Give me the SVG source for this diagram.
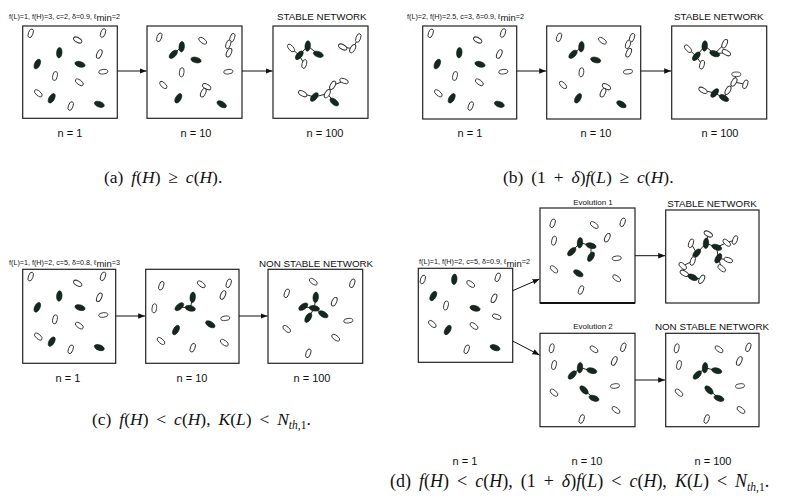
<svg xmlns="http://www.w3.org/2000/svg" xmlns:xlink="http://www.w3.org/1999/xlink" width="789" height="499" viewBox="0 0 789 499">
<style>
.bx{fill:#fff;stroke:#222;stroke-width:1.2}
.ln{stroke:#111;stroke-width:0.9;fill:none}
.ar{stroke:#111;stroke-width:1;fill:none}
.p{font-family:"Liberation Sans",Arial,sans-serif;font-size:7.2px;fill:#111}
.m{font-size:9.5px}
.t{font-family:"Liberation Sans",Arial,sans-serif;font-size:9.8px;fill:#111}
.e{font-family:"Liberation Sans",Arial,sans-serif;font-size:8px;fill:#111}
.n{font-family:"Liberation Sans",Arial,sans-serif;font-size:11px;fill:#111;text-anchor:middle}
.cap{font-family:"Liberation Serif","Times New Roman",serif;font-size:17.5px;word-spacing:3.5px;fill:#111}
.i{font-style:italic}
.s{font-size:11.5px}
</style>
<defs>
<marker id="ah" viewBox="0 0 10 10" refX="10" refY="5" markerWidth="7" markerHeight="7" markerUnits="userSpaceOnUse" orient="auto"><path d="M0,1 L10,5 L0,9 z" fill="#111"/></marker>
<ellipse id="W" rx="2.3" ry="4.6" fill="#fff" stroke="#333" stroke-width="0.9"/>
<ellipse id="B" rx="2.7" ry="5.2" fill="#13291d" stroke="#0b1810" stroke-width="0.6"/>
<g id="init">
<use href="#W" transform="translate(8 7.3) rotate(20)"/>
<use href="#W" transform="translate(80.3 7) rotate(20)"/>
<use href="#W" transform="translate(55 14) rotate(-60)"/>
<use href="#B" transform="translate(36.6 26.7) rotate(5)"/>
<use href="#W" transform="translate(76.6 28) rotate(25)"/>
<use href="#B" transform="translate(14.6 38) rotate(25)"/>
<use href="#B" transform="translate(57.3 38.3) rotate(-75)"/>
<use href="#W" transform="translate(32.3 50) rotate(10)"/>
<use href="#W" transform="translate(80.6 45.7) rotate(85)"/>
<use href="#W" transform="translate(56.6 56.3) rotate(-55)"/>
<use href="#W" transform="translate(15.6 67.3) rotate(-50)"/>
<use href="#B" transform="translate(29 72.3) rotate(30)"/>
<use href="#W" transform="translate(48 80) rotate(20)"/>
<use href="#B" transform="translate(76.6 78.3) rotate(-70)"/>
</g>
<g id="ten">
<path class="ln" d="M85.3,11.7 L81.3,18.3 M34.7,20.7 L26.3,28.3 M59.7,60.7 L56.3,66.7"/>
<use href="#W" transform="translate(12.3 11.3) rotate(20)"/>
<use href="#W" transform="translate(55.7 14.7) rotate(-55)"/>
<use href="#W" transform="translate(85.3 11.7) rotate(20)"/>
<use href="#W" transform="translate(81.3 18.3) rotate(20)"/>
<use href="#B" transform="translate(34.7 20.7) rotate(5)"/>
<use href="#B" transform="translate(26.3 28.3) rotate(45)"/>
<use href="#B" transform="translate(49 34) rotate(-75)"/>
<use href="#W" transform="translate(82 26.7) rotate(25)"/>
<use href="#W" transform="translate(34.7 46.3) rotate(5)"/>
<use href="#W" transform="translate(81.3 45.7) rotate(85)"/>
<use href="#W" transform="translate(16.3 59) rotate(-45)"/>
<use href="#W" transform="translate(59.7 60.7) rotate(-60)"/>
<use href="#W" transform="translate(56.3 66.7) rotate(25)"/>
<use href="#B" transform="translate(31.3 72.3) rotate(30)"/>
<use href="#B" transform="translate(74.7 78.3) rotate(-60)"/>
</g>
<g id="ev2">
<path class="ln" d="M40,34.7 L32.3,42 M40,34.7 L51.7,37.7 M44,57 L54,65.3"/>
<use href="#W" transform="translate(11.7 15.3) rotate(10)"/>
<use href="#W" transform="translate(54 16.3) rotate(-55)"/>
<use href="#W" transform="translate(83.3 14.3) rotate(20)"/>
<use href="#W" transform="translate(74.3 28) rotate(25)"/>
<use href="#W" transform="translate(14 32) rotate(10)"/>
<use href="#B" transform="translate(40 34.7) rotate(5)"/>
<use href="#B" transform="translate(32.3 42) rotate(45)"/>
<use href="#B" transform="translate(51.7 37.7) rotate(-75)"/>
<use href="#W" transform="translate(75 53) rotate(85)"/>
<use href="#W" transform="translate(14 59.7) rotate(-50)"/>
<use href="#B" transform="translate(44 57) rotate(-45)"/>
<use href="#B" transform="translate(54 65.3) rotate(-70)"/>
<use href="#W" transform="translate(76 77) rotate(-55)"/>
<use href="#W" transform="translate(41.7 86) rotate(20)"/>
</g>
</defs>
<rect width="789" height="499" fill="#fff"/>

<!-- panel a -->
<g id="a-params"><text class="p" x="9" y="18.5">f(L)=1, f(H)=3, c=2, δ=0.9,  ℓ<tspan class="m" dy="2.5">min</tspan><tspan dy="-2.5">=2</tspan></text></g>
<g id="a-n1">
<rect class="bx" x="22.7" y="26" width="94.6" height="92.3"/>
<use href="#init" x="22.7" y="26"/>
<text class="n" x="70" y="137">n = 1</text>
</g>
<g id="a-n10">
<rect class="bx" x="147" y="26" width="95" height="92.3"/>
<use href="#ten" x="147" y="26"/>
<text class="n" x="196" y="137">n = 10</text>
</g>
<g id="a-n100">
<text class="t" x="277" y="19.5">STABLE NETWORK</text>
<rect class="bx" x="273" y="26" width="95" height="92.3"/>
<path class="ln" d="M291,48 L299.3,55.3 L307.7,46 L318.3,54.3 M299.3,55.3 L304.3,64 M342.7,47 L352.7,48.7 L358.3,38 M302.7,93.7 L314.3,97 L327.3,93.7 L332.7,85.3 L344,81 M327.3,93.7 L334.3,102"/>
<use href="#W" transform="translate(291 48) rotate(-40)"/>
<use href="#B" transform="translate(299.3 55.3) rotate(40)"/>
<use href="#B" transform="translate(307.7 46) rotate(5)"/>
<use href="#B" transform="translate(318.3 54.3) rotate(-70)"/>
<use href="#W" transform="translate(304.3 64) rotate(15)"/>
<use href="#W" transform="translate(342.7 47) rotate(-60)"/>
<use href="#W" transform="translate(352.7 48.7) rotate(30)"/>
<use href="#W" transform="translate(358.3 38) rotate(20)"/>
<use href="#W" transform="translate(302.7 93.7) rotate(-60)"/>
<use href="#B" transform="translate(314.3 97) rotate(40)"/>
<use href="#W" transform="translate(327.3 93.7) rotate(30)"/>
<use href="#W" transform="translate(332.7 85.3) rotate(30)"/>
<use href="#W" transform="translate(344 81) rotate(-70)"/>
<use href="#B" transform="translate(334.3 102) rotate(-50)"/>
<text class="n" x="325" y="137">n = 100</text>
</g>

<!-- panel b -->
<g id="b-params"><text class="p" x="407" y="18.5">f(L)=2, f(H)=2.5, c=3, δ=0.9,  ℓ<tspan class="m" dy="2.5">min</tspan><tspan dy="-2.5">=2</tspan></text></g>
<g id="b-n1">
<rect class="bx" x="422.7" y="26" width="94" height="93"/>
<use href="#init" x="422.7" y="26"/>
<text class="n" x="470" y="137">n = 1</text>
</g>
<g id="b-n10">
<rect class="bx" x="546.7" y="26" width="94" height="93"/>
<use href="#ten" x="546.7" y="26"/>
<text class="n" x="596" y="137">n = 10</text>
</g>
<g id="b-n100">
<text class="t" x="674" y="19.5">STABLE NETWORK</text>
<rect class="bx" x="671.7" y="26" width="95" height="93"/>
<path class="ln" d="M688,48.7 L696.3,56.3 L702,64.7 M696.3,56.3 L704.7,46 L714.7,53.7 L724.7,43.7 M714.7,53.7 L726.3,52.7 M703,90.3 L714.7,93 L724,98 L728,90.3 L734,82 L736.3,74.3 M734,82 L745.3,84.3"/>
<use href="#W" transform="translate(688 48.7) rotate(-40)"/>
<use href="#B" transform="translate(696.3 56.3) rotate(40)"/>
<use href="#W" transform="translate(702 64.7) rotate(15)"/>
<use href="#B" transform="translate(704.7 46) rotate(5)"/>
<use href="#B" transform="translate(714.7 53.7) rotate(-70)"/>
<use href="#W" transform="translate(724.7 43.7) rotate(25)"/>
<use href="#W" transform="translate(726.3 52.7) rotate(-60)"/>
<use href="#W" transform="translate(703 90.3) rotate(-60)"/>
<use href="#B" transform="translate(714.7 93) rotate(40)"/>
<use href="#B" transform="translate(724 98) rotate(-60)"/>
<use href="#W" transform="translate(728 90.3) rotate(30)"/>
<use href="#W" transform="translate(734 82) rotate(30)"/>
<use href="#W" transform="translate(736.3 74.3) rotate(90)"/>
<use href="#W" transform="translate(745.3 84.3) rotate(20)"/>
<text class="n" x="720" y="137">n = 100</text>
</g>

<!-- panel c -->
<g id="c-params"><text class="p" x="9" y="264.5">f(L)=1, f(H)=2, c=5, δ=0.8,  ℓ<tspan class="m" dy="2.5">min</tspan><tspan dy="-2.5">=3</tspan></text></g>
<g id="c-n1">
<rect class="bx" x="22.7" y="269.3" width="93" height="94"/>
<use href="#init" x="22.7" y="269.3"/>
<text class="n" x="68" y="382">n = 1</text>
</g>
<g id="c-n10">
<rect class="bx" x="145.7" y="269.3" width="93.3" height="94"/>
<path class="ln" d="M192.7,297.3 L190.3,308.3 L179.3,306.7"/>
<use href="#W" transform="translate(161.3 285.7) rotate(20)"/>
<use href="#W" transform="translate(201.3 284.3) rotate(-55)"/>
<use href="#W" transform="translate(228.7 283.3) rotate(20)"/>
<use href="#W" transform="translate(223 295) rotate(25)"/>
<use href="#B" transform="translate(192.7 297.3) rotate(5)"/>
<use href="#B" transform="translate(179.3 306.7) rotate(50)"/>
<use href="#B" transform="translate(190.3 308.3) rotate(-75)"/>
<use href="#W" transform="translate(154.3 308.3) rotate(5)"/>
<use href="#W" transform="translate(225.3 318.3) rotate(85)"/>
<use href="#B" transform="translate(210.3 324.3) rotate(-60)"/>
<use href="#B" transform="translate(176 330) rotate(30)"/>
<use href="#W" transform="translate(161 341) rotate(-50)"/>
<use href="#W" transform="translate(192.7 347.7) rotate(20)"/>
<use href="#W" transform="translate(224.3 342.7) rotate(-55)"/>
<text class="n" x="192" y="382">n = 10</text>
</g>
<g id="c-n100">
<text class="t" x="259" y="266.5">NON STABLE NETWORK</text>
<rect class="bx" x="268" y="269.3" width="94.7" height="94"/>
<path class="ln" d="M314.3,308.3 L315.7,297.3 M314.3,308.3 L303.3,306.7 M314.3,308.3 L323.3,314.3 M314.3,308.3 L308.3,317.7"/>
<use href="#W" transform="translate(286.7 293.3) rotate(20)"/>
<use href="#W" transform="translate(313.3 281.7) rotate(-55)"/>
<use href="#W" transform="translate(352.3 283.3) rotate(20)"/>
<use href="#W" transform="translate(334.3 301.7) rotate(25)"/>
<use href="#B" transform="translate(315.7 297.3) rotate(5)"/>
<use href="#B" transform="translate(303.3 306.7) rotate(55)"/>
<use href="#B" transform="translate(314.3 308.3) rotate(-80)"/>
<use href="#B" transform="translate(323.3 314.3) rotate(-60)"/>
<use href="#B" transform="translate(308.3 317.7) rotate(30)"/>
<use href="#W" transform="translate(348.3 320.7) rotate(85)"/>
<use href="#W" transform="translate(286.7 329) rotate(-50)"/>
<use href="#W" transform="translate(335.7 337.7) rotate(-55)"/>
<use href="#W" transform="translate(308.3 353.3) rotate(20)"/>
<text class="n" x="312" y="382">n = 100</text>
</g>

<!-- panel d -->
<g id="d-n1">
<text class="p" x="419" y="264">f(L)=1, f(H)=2, c=5, δ=0.9,  ℓ<tspan class="m" dy="2.5">min</tspan><tspan dy="-2.5">=2</tspan></text>
<rect class="bx" x="418.3" y="268.3" width="94.4" height="94"/>
<use href="#W" transform="translate(422.8 279.5) rotate(20)"/>
<use href="#B" transform="translate(454.3 279.3) rotate(5)"/>
<use href="#W" transform="translate(470.7 284) rotate(-55)"/>
<use href="#W" transform="translate(497.7 277.3) rotate(20)"/>
<use href="#B" transform="translate(433.3 296) rotate(30)"/>
<use href="#W" transform="translate(494 298.3) rotate(25)"/>
<use href="#W" transform="translate(446 305.5) rotate(10)"/>
<use href="#B" transform="translate(475 308.3) rotate(-75)"/>
<use href="#W" transform="translate(496.7 316.7) rotate(-70)"/>
<use href="#W" transform="translate(432.3 324) rotate(-50)"/>
<use href="#B" transform="translate(447.7 330) rotate(30)"/>
<use href="#W" transform="translate(474 326) rotate(-55)"/>
<use href="#W" transform="translate(466.7 349.3) rotate(20)"/>
<use href="#B" transform="translate(495 347.7) rotate(-70)"/>
<text class="n" x="465" y="465">n = 1</text>
</g>
<g id="d-ev1">
<text class="e" x="593" y="205" text-anchor="middle">Evolution 1</text>
<rect class="bx" x="540" y="208" width="95" height="95"/>
<line x1="540" y1="303" x2="635" y2="303" stroke="#111" stroke-width="2"/>
<path class="ln" d="M571.7,251.7 L580,242.7 L591,245.7 L591,256.7"/>
<use href="#W" transform="translate(552.7 223.3) rotate(20)"/>
<use href="#W" transform="translate(594.3 225) rotate(-55)"/>
<use href="#W" transform="translate(622.7 222.3) rotate(20)"/>
<use href="#W" transform="translate(607.3 237.7) rotate(25)"/>
<use href="#W" transform="translate(554 240.7) rotate(10)"/>
<use href="#B" transform="translate(580 242.7) rotate(5)"/>
<use href="#B" transform="translate(571.7 251.7) rotate(45)"/>
<use href="#B" transform="translate(591 245.7) rotate(-75)"/>
<use href="#B" transform="translate(591 256.7) rotate(30)"/>
<use href="#W" transform="translate(616.7 258.3) rotate(85)"/>
<use href="#W" transform="translate(554 269.3) rotate(-50)"/>
<use href="#B" transform="translate(578.3 273.3) rotate(-60)"/>
<use href="#W" transform="translate(616.7 278.3) rotate(-55)"/>
<use href="#W" transform="translate(581 290) rotate(20)"/>
</g>
<g id="d-stable">
<text class="t" x="712" y="206.5" text-anchor="middle">STABLE NETWORK</text>
<rect class="bx" x="665.7" y="210" width="93.3" height="93"/>
<path class="ln" d="M708.3,234 L706,243.3 L696.7,253.3 L691,243.3 M696.7,253.3 L692.7,261 L682.7,266 L684.3,273.3 L692.7,277.3 L701.7,279.3 M706,243.3 L716.7,247.3 L726.7,242.7 L735,240 M716.7,247.3 L718.3,258.3 L728.3,260 M718.3,258.3 L721.7,268.3"/>
<use href="#W" transform="translate(708.3 234) rotate(-60)"/>
<use href="#B" transform="translate(706 243.3) rotate(5)"/>
<use href="#W" transform="translate(691 243.3) rotate(20)"/>
<use href="#B" transform="translate(696.7 253.3) rotate(40)"/>
<use href="#W" transform="translate(692.7 261) rotate(20)"/>
<use href="#W" transform="translate(682.7 266) rotate(-50)"/>
<use href="#W" transform="translate(684.3 273.3) rotate(-60)"/>
<use href="#B" transform="translate(692.7 277.3) rotate(-65)"/>
<use href="#W" transform="translate(701.7 279.3) rotate(30)"/>
<use href="#B" transform="translate(716.7 247.3) rotate(-70)"/>
<use href="#W" transform="translate(726.7 242.7) rotate(-50)"/>
<use href="#W" transform="translate(735 240) rotate(20)"/>
<use href="#B" transform="translate(718.3 258.3) rotate(30)"/>
<use href="#W" transform="translate(728.3 260) rotate(-70)"/>
<use href="#W" transform="translate(721.7 268.3) rotate(-50)"/>
</g>
<g id="d-ev2">
<text class="e" x="593" y="329" text-anchor="middle">Evolution 2</text>
<rect class="bx" x="540" y="333.3" width="95" height="93.4"/>
<use href="#ev2" x="540" y="333"/>
<text class="n" x="587" y="465">n = 10</text>
</g>
<g id="d-nonstable">
<text class="t" x="712" y="330" text-anchor="middle">NON STABLE NETWORK</text>
<rect class="bx" x="665.7" y="333.3" width="93.3" height="93.4"/>
<use href="#ev2" x="665" y="333"/>
<text class="n" x="713" y="465">n = 100</text>
</g>

<!-- connectors -->
<g id="connectors">
<line class="ar" x1="117.3" y1="71" x2="146.5" y2="71" marker-end="url(#ah)"/>
<line class="ar" x1="242" y1="71" x2="272.5" y2="71" marker-end="url(#ah)"/>
<line class="ar" x1="516.7" y1="71" x2="546.2" y2="71" marker-end="url(#ah)"/>
<line class="ar" x1="640.7" y1="71" x2="671.2" y2="71" marker-end="url(#ah)"/>
<line class="ar" x1="115.7" y1="316" x2="145.2" y2="316" marker-end="url(#ah)"/>
<line class="ar" x1="239" y1="316" x2="267.5" y2="316" marker-end="url(#ah)"/>
<line class="ar" x1="512.7" y1="290.7" x2="539.5" y2="279" marker-end="url(#ah)"/>
<line class="ar" x1="512.7" y1="341" x2="539.5" y2="355" marker-end="url(#ah)"/>
<line class="ar" x1="635" y1="255.7" x2="665.2" y2="255.7" marker-end="url(#ah)"/>
<line class="ar" x1="635" y1="380" x2="665.2" y2="380" marker-end="url(#ah)"/>
</g>

<!-- captions -->
<g id="captions">
<text class="cap" x="104" y="183">(a) <tspan class="i">f</tspan>(<tspan class="i">H</tspan>) ≥ <tspan class="i">c</tspan>(<tspan class="i">H</tspan>).</text>
<text class="cap" x="503" y="183">(b) (1 + <tspan class="i">δ</tspan>)<tspan class="i">f</tspan>(<tspan class="i">L</tspan>) ≥ <tspan class="i">c</tspan>(<tspan class="i">H</tspan>).</text>
<text class="cap" x="92" y="425">(c) <tspan class="i">f</tspan>(<tspan class="i">H</tspan>) &lt; <tspan class="i">c</tspan>(<tspan class="i">H</tspan>), <tspan class="i">K</tspan>(<tspan class="i">L</tspan>) &lt; <tspan class="i">N</tspan><tspan class="s" dy="3.5"><tspan class="i">th</tspan>,1</tspan><tspan dy="-3.5">.</tspan></text>
<text class="cap" x="390" y="487" style="font-size:18px">(d) <tspan class="i">f</tspan>(<tspan class="i">H</tspan>) &lt; <tspan class="i">c</tspan>(<tspan class="i">H</tspan>), (1 + <tspan class="i">δ</tspan>)<tspan class="i">f</tspan>(<tspan class="i">L</tspan>) &lt; <tspan class="i">c</tspan>(<tspan class="i">H</tspan>), <tspan class="i">K</tspan>(<tspan class="i">L</tspan>) &lt; <tspan class="i">N</tspan><tspan class="s" dy="3.5"><tspan class="i">th</tspan>,1</tspan><tspan dy="-3.5">.</tspan></text>
</g>
</svg>
